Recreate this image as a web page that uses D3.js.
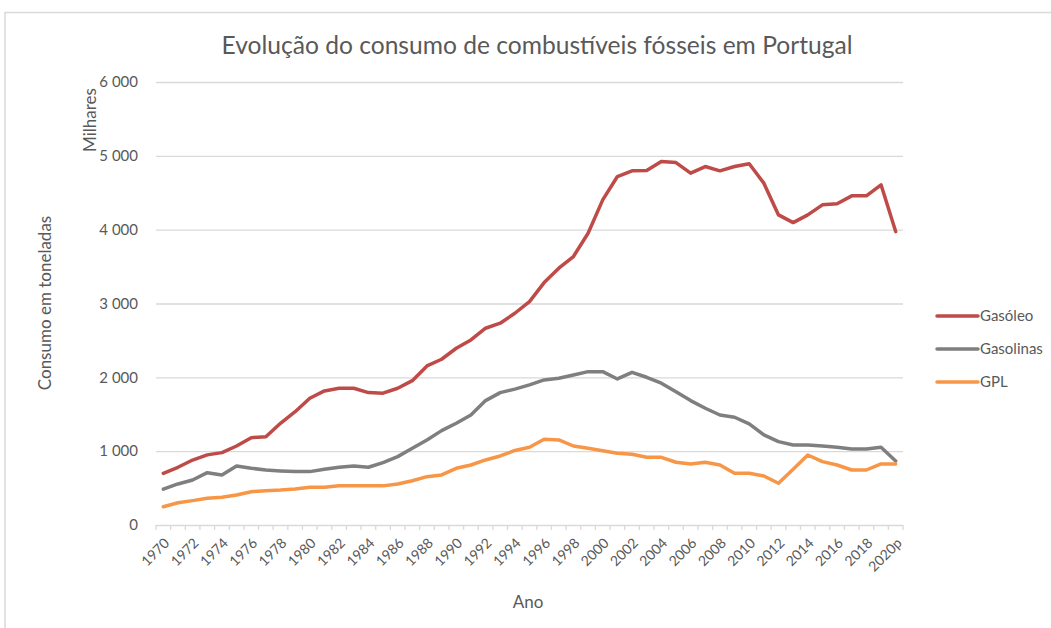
<!DOCTYPE html>
<html>
<head>
<meta charset="utf-8">
<script src="https://cdn.jsdelivr.net/npm/d3@7"></script>
<style>
  body { margin: 0; background: #fff; }
  text { font-family: Lato, "Open Sans", sans-serif; fill: #595959; }
</style>
</head>
<body>
<div id="chart"></div>
<script>
var svgWidth = 1051;
var svgHeight = 628;

var leftMargin = 156;
var rightMargin = 148;
var topMargin = 82;
var bottomMargin = 103;

var chartWidth = svgWidth - leftMargin - rightMargin;
var chartHeight = svgHeight - topMargin - bottomMargin;

var years = ['1970','1971','1972','1973','1974','1975','1976','1977','1978','1979',
    '1980','1981','1982','1983','1984','1985','1986','1987','1988','1989',
    '1990','1991','1992','1993','1994','1995','1996','1997','1998','1999',
    '2000','2001','2002','2003','2004','2005','2006','2007','2008','2009',
    '2010','2011','2012','2013','2014','2015','2016','2017','2018','2019','2020p'];

// milhares de toneladas
var gasoleo = [700, 782, 880, 950, 980, 1070, 1183, 1196, 1378, 1535,
    1717, 1816, 1852, 1852, 1793, 1785, 1852, 1955, 2154, 2245,
    2394, 2507, 2665, 2733, 2868, 3026, 3283, 3478, 3636, 3952,
    4404, 4720, 4797, 4800, 4923, 4909, 4766, 4855, 4797, 4855,
    4892, 4630, 4200, 4096, 4200, 4336, 4350, 4458, 4458, 4607, 3974];

var gasolinas = [485, 556, 610, 709, 678, 800, 768, 745, 732, 723,
    723, 754, 782, 800, 782, 845, 926, 1039, 1152, 1278,
    1378, 1490, 1685, 1793, 1840, 1897, 1965, 1988, 2032, 2077,
    2077, 1978, 2068, 2001, 1920, 1806, 1685, 1581, 1490, 1459,
    1369, 1220, 1129, 1084, 1084, 1070, 1053, 1030, 1030, 1053, 867];

var gpl = [248, 302, 330, 361, 375, 407, 451, 465, 474, 488,
    511, 511, 533, 533, 530, 530, 556, 600, 655, 678,
    768, 813, 881, 935, 1010, 1053, 1161, 1152, 1070, 1039,
    1007, 971, 958, 917, 917, 850, 827, 850, 813, 700,
    700, 664, 565, 754, 948, 858, 813, 745, 745, 827, 827];

var seriesNames = ['Gasóleo', 'Gasolinas', 'GPL'];
var seriesValues = [gasoleo, gasolinas, gpl];
var colors = ['#BE4B48', '#7F7F7F', '#F79646'];
var yTicks = [0, 1000, 2000, 3000, 4000, 5000, 6000];

var svg = d3.select('#chart')
    .append('svg')
    .attr('width', svgWidth)
    .attr('height', svgHeight);

// chart area border
svg.append('rect')
    .attr('x', 5)
    .attr('y', 12.5)
    .attr('width', svgWidth)
    .attr('height', svgHeight)
    .attr('fill', 'none')
    .attr('stroke', '#d9d9d9')
    .attr('stroke-width', 1.5);

var chart = svg.append('g')
    .attr('transform', `translate(${leftMargin}, ${topMargin})`);

var xScale = d3.scaleBand()
    .domain(years)
    .range([0, chartWidth]);
var xPos = d => xScale(d) + xScale.bandwidth() / 2;

var yScale = d3.scaleLinear()
    .domain([0, 6000])
    .range([chartHeight, 0]);

var fmt = v => d3.format(',')(v).replace(/,/g, ' ');

// gridlines + y labels
var yAxis = d3.axisLeft(yScale)
    .tickValues(yTicks)
    .tickSize(-chartWidth)
    .tickPadding(18)
    .tickFormat(fmt);

chart.append('g')
    .call(yAxis)
    .call(g => g.select('.domain').remove())
    .call(g => g.selectAll('.tick line').attr('stroke', '#d9d9d9').attr('stroke-width', 1.3))
    .call(g => g.selectAll('.tick text').attr('font-size', 15).style('font-family', 'Lato, sans-serif'));

// x axis: tick marks on category boundaries
var xAxisG = chart.append('g')
    .attr('transform', `translate(0, ${chartHeight})`);

xAxisG.selectAll('line.tickmark')
    .data(years.concat(['end']))
    .enter()
    .append('line')
    .attr('class', 'tickmark')
    .attr('x1', d => d === 'end' ? chartWidth : xScale(d))
    .attr('x2', d => d === 'end' ? chartWidth : xScale(d))
    .attr('y1', 0)
    .attr('y2', 5)
    .attr('stroke', '#d9d9d9')
    .attr('stroke-width', 1.3);

xAxisG.selectAll('text')
    .data(years.filter((d, i) => i % 2 === 0))
    .enter()
    .append('text')
    .attr('transform', d => `translate(${xPos(d) + 7}, 19) rotate(-45)`)
    .attr('text-anchor', 'end')
    .attr('font-size', 14)
    .text(d => d);

// lines
var line = d3.line()
    .x((d, i) => xPos(years[i]))
    .y(d => yScale(d));

chart.selectAll('path.series')
    .data(seriesValues)
    .enter()
    .append('path')
    .attr('class', 'series')
    .attr('d', d => line(d))
    .attr('fill', 'none')
    .attr('stroke', (d, i) => colors[i])
    .attr('stroke-width', 3.5)
    .attr('stroke-linejoin', 'round')
    .attr('stroke-linecap', 'round');

// title
svg.append('text')
    .attr('x', 537)
    .attr('y', 54)
    .attr('text-anchor', 'middle')
    .attr('font-size', 25)
    .attr('textLength', 631)
    .attr('lengthAdjust', 'spacingAndGlyphs')
    .text('Evolução do consumo de combustíveis fósseis em Portugal');

// axis titles
svg.append('text')
    .attr('transform', 'translate(51, 303) rotate(-90)')
    .attr('text-anchor', 'middle')
    .attr('font-size', 17)
    .text('Consumo em toneladas');

svg.append('text')
    .attr('transform', 'translate(96, 120) rotate(-90)')
    .attr('text-anchor', 'middle')
    .attr('font-size', 17)
    .text('Milhares');

svg.append('text')
    .attr('x', 528)
    .attr('y', 608)
    .attr('text-anchor', 'middle')
    .attr('font-size', 17)
    .text('Ano');

// legend
var legend = svg.append('g')
    .attr('transform', 'translate(937, 316)');

var legendItems = legend.selectAll('g')
    .data(seriesNames)
    .enter()
    .append('g')
    .attr('transform', (d, i) => `translate(0, ${i * 33})`);

legendItems.append('line')
    .attr('x1', 0)
    .attr('x2', 41)
    .attr('stroke', (d, i) => colors[i])
    .attr('stroke-width', 3.5)
    .attr('stroke-linecap', 'round');

legendItems.append('text')
    .attr('x', 43)
    .attr('y', 5)
    .attr('font-size', 15)
    .text(d => d);
</script>
</body>
</html>
